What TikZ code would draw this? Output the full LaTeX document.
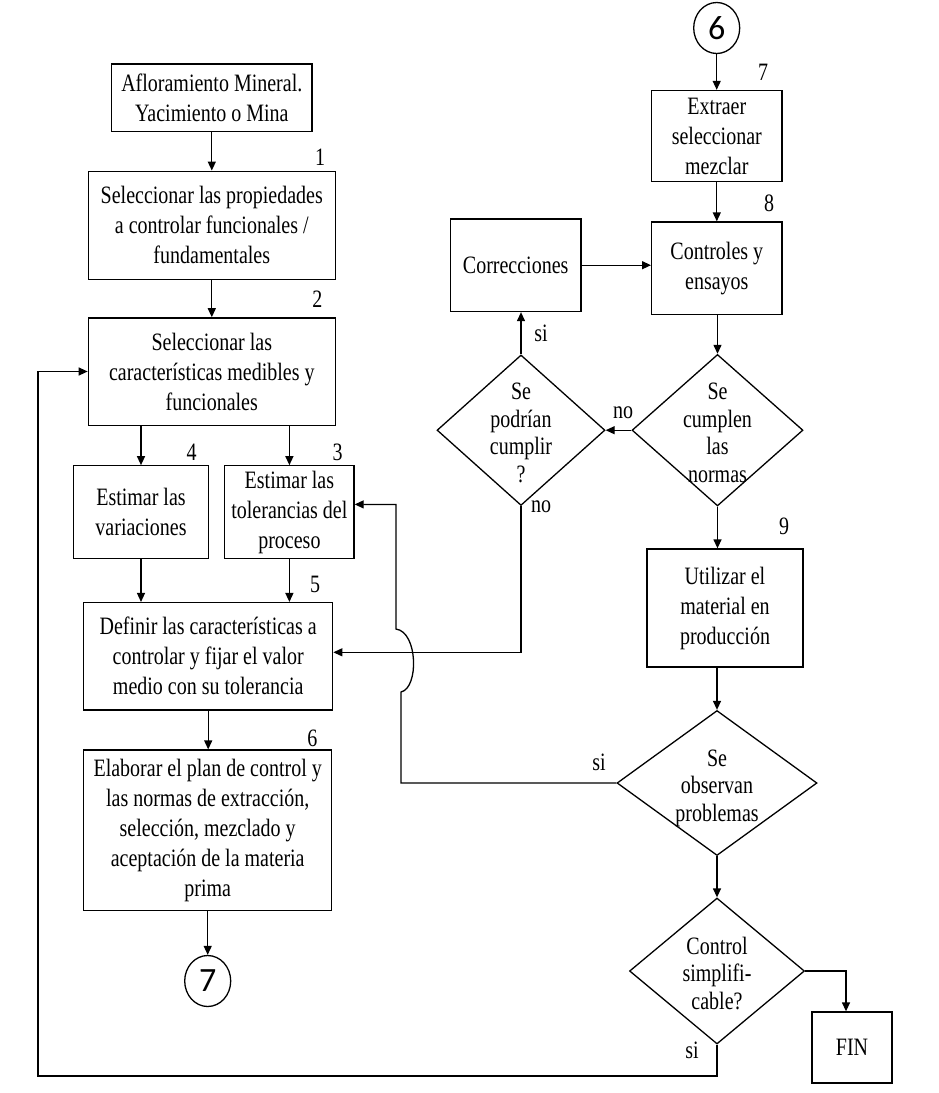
\documentclass[tikz,border=0pt]{standalone}
\usepackage{fontspec}
\setmainfont{Liberation Serif}[FakeStretch=0.80]
\newfontfamily\digitfont{Carlito}
\usetikzlibrary{shapes.geometric,arrows.meta}
\newcommand\dtext[1]{\makebox[0pt]{\smash{\raisebox{-11.5pt}{\begin{tabular}{@{}c@{}}#1\end{tabular}}}}}
\begin{document}
\begin{tikzpicture}[x=1pt,y=-1pt,
  line width=1.3pt,
  box/.style={draw, rectangle, inner sep=0pt, align=center, font=\fontsize{25}{30}\selectfont},
  dia/.style={draw, diamond, inner sep=0pt, font=\fontsize{25}{27.6}\selectfont},
  conn/.style={draw, ellipse, inner sep=0pt, minimum width=46pt, minimum height=51pt, font=\digitfont\fontsize{34}{34}\selectfont},
  lab/.style={inner sep=0pt, font=\fontsize{25}{25}\selectfont},
  arr/.style={-{Triangle[length=9pt,width=8pt]}}
]
\fill[white] (0,0) rectangle (939,1093);
\useasboundingbox (0,0) rectangle (939,1093);

% left column
\node[box, minimum width=200.3pt, minimum height=67.7pt] (a0) at (211.8,97.7) {Afloramiento Mineral.\\Yacimiento o Mina};
\node[box, minimum width=247pt, minimum height=108.4pt] (e1) at (211.8,225.4) {Seleccionar las propiedades\\a controlar funcionales /\\fundamentales};
\node[box, minimum width=247pt, minimum height=107.3pt] (e2) at (211.8,371.5) {Seleccionar las\\características medibles y\\funcionales};
\node[box, minimum width=135.4pt, minimum height=93pt] (e4) at (141,512.3) {Estimar las\\variaciones};
\node[box, minimum width=129.3pt, minimum height=93pt] (e3) at (289.4,512.3) {Estimar las\\tolerancias del\\proceso};
\node[box, minimum width=249pt, minimum height=107.4pt] (e5) at (208.2,656.3) {Definir las características a\\controlar y fijar el valor\\medio con su tolerancia};
\node[box, minimum width=248pt, minimum height=160.5pt] (e6) at (207.7,830.3) {Elaborar el plan de control y\\las normas de extracción,\\selección, mezclado y\\aceptación de la materia\\prima};
\node[conn] (c7) at (207.7,981) {7};

% right column
\node[conn] (c6) at (716.7,28) {6};
\node[box, minimum width=130.3pt, minimum height=91pt] (e7) at (716.8,136) {Extraer\\seleccionar\\mezclar};
\node[box, minimum width=130.3pt, minimum height=92.6pt] (ctl) at (716.8,268.3) {Controles y\\ensayos};
\node[box, minimum width=130.7pt, minimum height=92.6pt] (corr) at (515.7,265.2) {Correcciones};
\node[dia, minimum width=171pt, minimum height=151.5pt] (cump) at (717.5,430.2) {\dtext{Se\\cumplen\\las\\normas}};
\node[dia, minimum width=168pt, minimum height=150.5pt] (pod) at (521,430.2) {\dtext{Se\\podrían\\cumplir\\?}};
\node[box, minimum width=156pt, minimum height=118pt] (util) at (725,608) {Utilizar el\\material en\\producción};
\node[dia, minimum width=200pt, minimum height=145pt] (obs) at (717,783) {\dtext{Se\\observan\\problemas}};
\node[dia, minimum width=175pt, minimum height=146pt] (ctrl) at (717,971) {\dtext{Control\\simplifi-\\cable?}};
\node[box, minimum width=80pt, minimum height=71pt] (fin) at (852,1047.5) {FIN};

% step numbers and labels
\node[lab] (n1) at (320,157) {1};
\node[lab] (n2) at (317.3,298.8) {2};
\node[lab] (n3) at (337.7,452.5) {3};
\node[lab] (n4) at (191.7,452.5) {4};
\node[lab] (n5) at (315,584.6) {5};
\node[lab] (n6) at (312.3,738.7) {6};
\node[lab] (n7) at (763,72.6) {7};
\node[lab] (n8) at (769,203) {8};
\node[lab] (n9) at (784,526) {9};
\node[lab] (lsi1) at (541,333.6) {si};
\node[lab] (lno1) at (541,507) {no};
\node[lab] (lno2) at (623,412.5) {no};
\node[lab] (lsi2) at (599,762) {si};
\node[lab] (lsi3) at (692,1050) {si};

% connectors left
\draw[arr] (a0.south) -- (a0.south |- e1.north);
\draw[arr] (e1.south) -- (e1.south |- e2.north);
\draw[arr] (e2.south -| e4.north) -- (e4.north);
\draw[arr] (e2.south -| e3.north) -- (e3.north);
\draw[arr] (e4.south) -- (e4.south |- e5.north);
\draw[arr] (e3.south) -- (e3.south |- e5.north);
\draw[arr] (e5.south) -- (e5.south |- e6.north);
\draw[arr] (e6.south) -- (c7.north);

% connectors right
\draw[arr] (c6.south) -- (c6.south |- e7.north);
\draw[arr] (e7.south) -- (e7.south |- ctl.north);
\draw[arr] (corr.east) -- (corr.east -| ctl.west);
\draw[arr] (ctl.south -| cump.north) -- (cump.north);
\draw[arr] (cump.west) -- (cump.west -| pod.east);
\draw[arr] (pod.north) -- (pod.north |- corr.south);
\draw[arr] (pod.south) |- ([yshift=4pt]e5.east);
\draw[arr] (cump.south) -- (cump.south |- util.north);
\draw[arr] (util.south -| obs.north) -- (obs.north);
\draw[arr] (obs.south) -- (ctrl.north);
\draw[arr] (ctrl.east) -| ([xshift=-6pt]fin.north);

% feedback from "Se observan problemas" with line jump
\coordinate (b3) at (396,504.4);
\draw[arr] (obs.west) -- (401,783) -- (401,692) .. controls (419,688) and (418,632) .. (396,629) -- (b3) -- (b3 -| e3.east);

% feedback from "Control simplificable?"
\coordinate (fbL) at (38,1076);
\draw[arr] (ctrl.south) |- (fbL) |- (e2.west);
\end{tikzpicture}
\end{document}
